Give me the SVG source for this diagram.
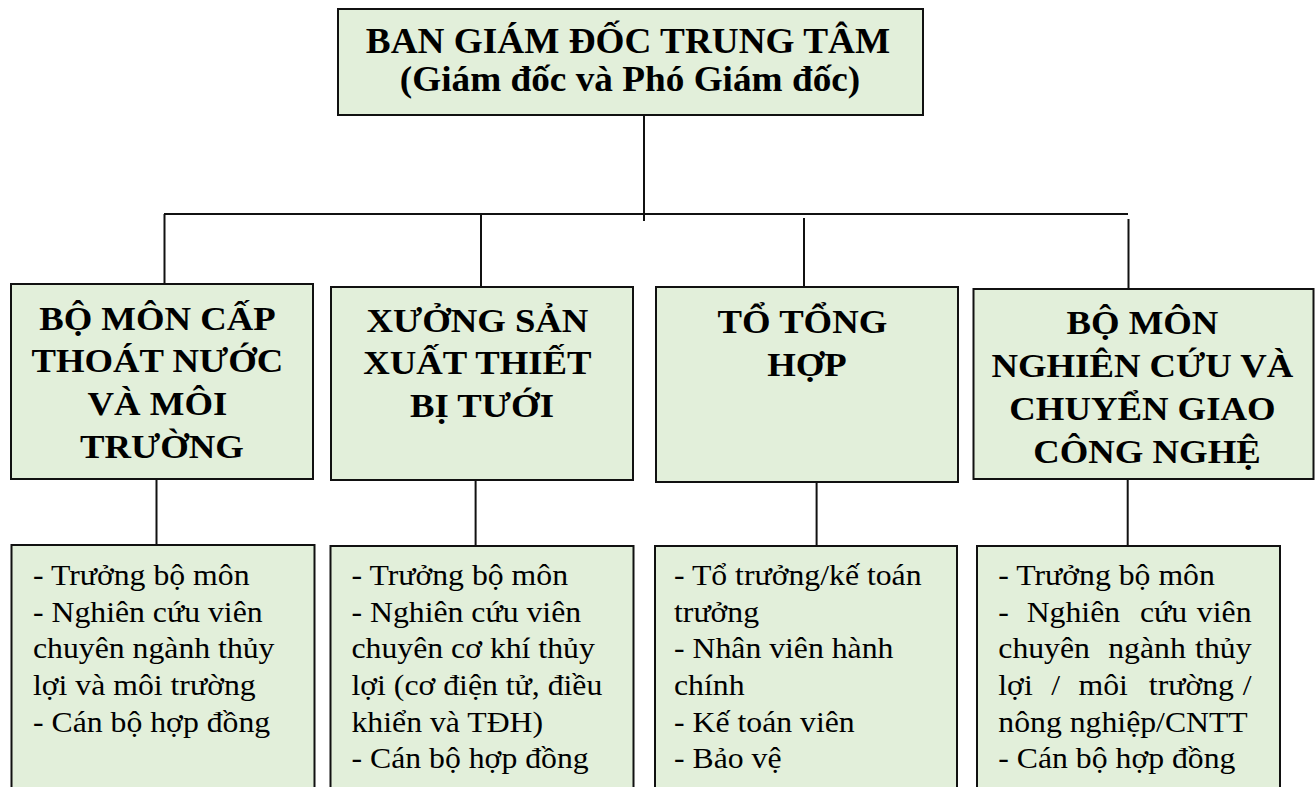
<svg xmlns="http://www.w3.org/2000/svg" width="1315" height="787" viewBox="0 0 1315 787">
<style>
.box{fill:#E2EFDA;stroke:#111;stroke-width:2}
.conn{stroke:#111;stroke-width:2;fill:none}
text{font-family:'Liberation Serif',Tinos,'Times New Roman','DejaVu Serif',serif;fill:#000}
.head{font-weight:bold;text-anchor:middle}
.top{font-size:36px}
.mid{font-size:34px}
.body{font-size:29px}
.end{text-anchor:end}
</style>
<rect width="1315" height="787" fill="#fff"/>
<g id="connectors">
<path class="conn" d="M644 114V221"/>
<path class="conn" d="M164 214H1128"/>
<path class="conn" d="M164.5 214V284"/>
<path class="conn" d="M481 213V287"/>
<path class="conn" d="M804 218V287"/>
<path class="conn" d="M1128.5 219V289"/>
<path class="conn" d="M156.5 479V545"/>
<path class="conn" d="M475.6 480V546"/>
<path class="conn" d="M816.6 482V546"/>
<path class="conn" d="M1127.7 479V546"/>
</g>
<g id="ban-giam-doc">
<rect class="box" x="338" y="9" width="585" height="106"/>
<text class="head top" font-family="Liberation Serif, serif" transform="translate(628,0) scale(1.035,1)"><tspan x="0" y="53">BAN GIÁM ĐỐC TRUNG TÂM</tspan></text>
<text class="head top" font-family="Liberation Serif, serif" transform="translate(630,0) scale(1.035,1)"><tspan x="0" y="91">(Giám đốc và Phó Giám đốc)</tspan></text>
</g>
<g id="bo-mon-cap-thoat-nuoc">
<rect class="box" x="11" y="284" width="302" height="195"/>
<text class="head mid" transform="translate(162,0) scale(1.08,1)">
<tspan x="0" y="330">BỘ MÔN CẤP</tspan>
<tspan x="0" y="372">THOÁT NƯỚC</tspan>
<tspan x="0" y="415">VÀ MÔI</tspan>
<tspan x="0" y="458">TRƯỜNG</tspan>
</text>
</g>
<g id="xuong-san-xuat">
<rect class="box" x="331" y="287" width="302" height="193"/>
<text class="head mid" transform="translate(482,0) scale(1.08,1)">
<tspan x="0" y="332">XƯỞNG SẢN</tspan>
<tspan x="0" y="374">XUẤT THIẾT</tspan>
<tspan x="0" y="417">BỊ TƯỚI</tspan>
</text>
</g>
<g id="to-tong-hop">
<rect class="box" x="656" y="287" width="302" height="195"/>
<text class="head mid" transform="translate(807,0) scale(1.08,1)">
<tspan x="0" y="333">TỔ TỔNG</tspan>
<tspan x="0" y="376">HỢP</tspan>
</text>
</g>
<g id="bo-mon-nghien-cuu">
<rect class="box" x="973.5" y="289" width="340" height="190"/>
<text class="head mid" transform="translate(1147,0) scale(1.08,1)">
<tspan x="0" y="334">BỘ MÔN</tspan>
<tspan x="0" y="377">NGHIÊN CỨU VÀ</tspan>
<tspan x="0" y="420">CHUYỂN GIAO</tspan>
<tspan x="0" y="463">CÔNG NGHỆ</tspan>
</text>
</g>
<g id="nhan-su-cap-thoat-nuoc">
<rect class="box" x="11.5" y="545" width="303" height="260"/>
<text class="body" transform="translate(33,0) scale(1.095,1)">
<tspan x="0" y="585">- Trưởng bộ môn</tspan>
<tspan x="0" y="621.7">- Nghiên cứu viên</tspan>
<tspan x="0" y="658.3">chuyên ngành thủy</tspan>
<tspan x="0" y="695">lợi và môi trường</tspan>
<tspan x="0" y="731.7">- Cán bộ hợp đồng</tspan>
</text>
</g>
<g id="nhan-su-xuong">
<rect class="box" x="330.5" y="546" width="303" height="260"/>
<text class="body" transform="translate(351.5,0) scale(1.095,1)">
<tspan x="0" y="585">- Trưởng bộ môn</tspan>
<tspan x="0" y="621.7">- Nghiên cứu viên</tspan>
<tspan x="0" y="658.3">chuyên cơ khí thủy</tspan>
<tspan x="0" y="695">lợi (cơ điện tử, điều</tspan>
<tspan x="0" y="731.7">khiển và TĐH)</tspan>
<tspan x="0" y="768">- Cán bộ hợp đồng</tspan>
</text>
</g>
<g id="nhan-su-to-tong-hop">
<rect class="box" x="655" y="546" width="302" height="260"/>
<text class="body" transform="translate(674,0) scale(1.095,1)">
<tspan x="0" y="585">- Tổ trưởng/kế toán</tspan>
<tspan x="0" y="621.7">trưởng</tspan>
<tspan x="0" y="658.3">- Nhân viên hành</tspan>
<tspan x="0" y="695">chính</tspan>
<tspan x="0" y="731.7">- Kế toán viên</tspan>
<tspan x="0" y="768">- Bảo vệ</tspan>
</text>
</g>
<g id="nhan-su-nghien-cuu">
<rect class="box" x="977" y="546" width="303" height="260"/>
<text class="body" transform="translate(998.3,0) scale(1.095,1)">
<tspan x="0" y="585">- Trưởng bộ môn</tspan>
<tspan x="0" y="621.7">-</tspan>
<tspan x="25.9" y="621.7">Nghiên</tspan>
<tspan x="129.3" y="621.7">cứu</tspan>
<tspan x="238.5" y="621.7" class="end">viên</tspan>
<tspan x="0" y="658.3">chuyên</tspan>
<tspan x="100.4" y="658.3">ngành</tspan>
<tspan x="238.5" y="658.3" class="end">thủy</tspan>
<tspan x="0" y="695">lợi</tspan>
<tspan x="48.3" y="695">/</tspan>
<tspan x="73.2" y="695">môi</tspan>
<tspan x="137.5" y="695">trường</tspan>
<tspan x="238.5" y="695" class="end">/</tspan>
<tspan x="0" y="731.7">nông nghiệp/CNTT</tspan>
<tspan x="0" y="768">- Cán bộ hợp đồng</tspan>
</text>
</g>
</svg>
